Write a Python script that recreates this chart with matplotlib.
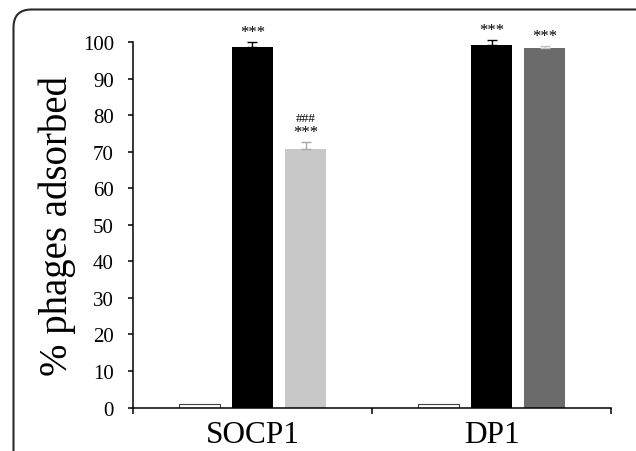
"""Phage adsorption bar chart (SOCP1 / DP1)."""

import matplotlib
matplotlib.use("Agg")
import matplotlib.pyplot as plt
from matplotlib.patches import FancyBboxPatch
from matplotlib.transforms import IdentityTransform

plt.rcParams["font.family"] = ["Liberation Serif", "DejaVu Serif"]

# ---------------------------------------------------------------------------
# Data
# ---------------------------------------------------------------------------
categories = ["SOCP1", "DP1"]

control = [1.0, 1.0]
treated_a = [98.7, 99.3]
treated_a_err = [1.3, 1.2]
treated_b = [70.8, 98.5]
treated_b_err = [2.0, 0.6]

stars_a = ["***", "***"]
stars_b = ["***", "***"]
hashes_b = ["###", ""]

# styling
COLOR_CONTROL = "white"
COLOR_A = "black"
COLORS_B = ["#c8c8c8", "#6b6b6b"]
ECOLORS_B = ["#a8a8a8", "#c4c4c4"]

BAR_W = 0.175
OFFSET = 0.222

fig = plt.figure(figsize=(6.36, 4.52), dpi=100)
ax = fig.add_axes([0.2091, 0.0962, 0.7516, 0.808])

centers = [i + 0.5 for i in range(len(categories))]
x_ctrl = [c - OFFSET for c in centers]
x_b = [c + OFFSET for c in centers]

ax.bar(x_ctrl, control, width=BAR_W, color=COLOR_CONTROL,
       edgecolor="#404040", linewidth=0.8)
ax.bar(centers, treated_a, width=BAR_W, color=COLOR_A, linewidth=0)
ax.bar(x_b, treated_b, width=BAR_W, color=COLORS_B, linewidth=0)

# upper-only error bars, Excel style
ax.errorbar(centers, treated_a, yerr=[[0] * len(treated_a), treated_a_err],
            fmt="none", ecolor="black", elinewidth=1.0, capsize=3.5,
            capthick=1.0, clip_on=False)
for xi, yi, ei, ec in zip(x_b, treated_b, treated_b_err, ECOLORS_B):
    ax.errorbar([xi], [yi], yerr=[[0], [ei]], fmt="none", ecolor=ec,
                elinewidth=1.0, capsize=3.5, capthick=1.0, clip_on=False)

# significance marks
for xi, yi, ei, s in zip(centers, treated_a, treated_a_err, stars_a):
    ax.annotate(s, xy=(xi, yi + ei), xytext=(0, 1.5), textcoords="offset points",
                ha="center", va="bottom", fontsize=12, annotation_clip=False)
for xi, yi, ei, s, h in zip(x_b, treated_b, treated_b_err, stars_b, hashes_b):
    ax.annotate(s, xy=(xi, yi + ei), xytext=(0, 1), textcoords="offset points",
                ha="center", va="bottom", fontsize=12, annotation_clip=False)
    if h:
        ax.annotate(h, xy=(xi, yi + ei), xytext=(0, 12.5),
                    textcoords="offset points", ha="center", va="bottom",
                    fontsize=9.5, annotation_clip=False)

# axes
ax.set_xlim(0, len(categories))
ax.set_ylim(0, 100)
ax.set_yticks(range(0, 101, 10))
ax.tick_params(axis="y", direction="out", length=3.8, width=1.1,
               labelsize=15, pad=10)
ax.set_xticks(range(len(categories) + 1))
ax.set_xticklabels([])
ax.set_xticks(centers, minor=True)
ax.set_xticklabels(categories, minor=True)
ax.tick_params(axis="x", which="major", direction="out", length=4, width=1.1)
ax.tick_params(axis="x", which="minor", length=0, labelsize=22.5, pad=9)

for spine in ("top", "right"):
    ax.spines[spine].set_visible(False)
for spine in ("left", "bottom"):
    ax.spines[spine].set_linewidth(1.1)

ax.set_ylabel("% phages adsorbed", fontsize=28)
ax.yaxis.set_label_coords(-0.119, 0.5)

# rounded frame around the panel (runs off the right and bottom edges)
frame = FancyBboxPatch((13.5, -40), 700, 441.5 + 40,
                       boxstyle="round,pad=0,rounding_size=18",
                       transform=IdentityTransform(), fill=False,
                       edgecolor="#2a2a2a", linewidth=1.5)
fig.patches.append(frame)

fig.savefig("out.png", dpi=100)
